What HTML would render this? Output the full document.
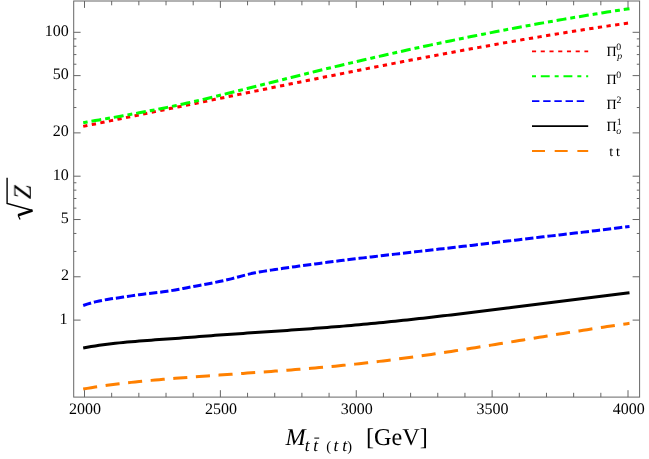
<!DOCTYPE html>
<html><head><meta charset="utf-8"><title>plot</title>
<style>html,body{margin:0;padding:0;background:#fff;overflow:hidden;}svg{display:block;}text{font-family:"Liberation Serif",serif;fill:#000;text-rendering:geometricPrecision;}.t{will-change:transform}</style></head>
<body>
<svg width="649" height="459" viewBox="0 0 649 459">
<rect width="649" height="459" fill="#fff"/>
<g fill="none" stroke-width="3" stroke-linejoin="round">
<path d="M83.2 126.35 L87.2 125.54 L91.2 124.73 L95.2 123.91 L99.2 123.10 L103.2 122.28 L107.2 121.47 L111.2 120.65 L115.2 119.83 L119.2 119.01 L123.2 118.19 L127.2 117.37 L131.2 116.55 L135.2 115.73 L139.2 114.91 L143.2 114.09 L147.2 113.27 L151.2 112.45 L155.2 111.63 L159.2 110.81 L163.2 109.99 L167.2 109.16 L171.2 108.34 L175.2 107.52 L179.2 106.70 L183.2 105.87 L187.2 105.05 L191.2 104.23 L195.2 103.41 L199.2 102.59 L203.2 101.76 L207.2 100.94 L211.2 100.12 L215.2 99.30 L219.2 98.48 L223.2 97.66 L227.2 96.84 L231.2 96.02 L235.2 95.20 L239.2 94.38 L243.2 93.56 L247.2 92.74 L251.2 91.92 L255.2 91.11 L259.2 90.29 L263.2 89.47 L267.2 88.66 L271.2 87.85 L275.2 87.03 L279.2 86.22 L283.2 85.41 L287.2 84.60 L291.2 83.79 L295.2 82.98 L299.2 82.17 L303.2 81.36 L307.2 80.55 L311.2 79.75 L315.2 78.94 L319.2 78.14 L323.2 77.34 L327.2 76.54 L331.2 75.74 L335.2 74.94 L339.2 74.14 L343.2 73.35 L347.2 72.55 L351.2 71.76 L355.2 70.97 L359.2 70.18 L363.2 69.39 L367.2 68.60 L371.2 67.81 L375.2 67.03 L379.2 66.24 L383.2 65.46 L387.2 64.68 L391.2 63.91 L395.2 63.13 L399.2 62.36 L403.2 61.58 L407.2 60.81 L411.2 60.05 L415.2 59.28 L419.2 58.52 L423.2 57.75 L427.2 56.99 L431.2 56.24 L435.2 55.48 L439.2 54.73 L443.2 53.98 L447.2 53.23 L451.2 52.49 L455.2 51.75 L459.2 51.01 L463.2 50.27 L467.2 49.54 L471.2 48.81 L475.2 48.08 L479.2 47.36 L483.2 46.63 L487.2 45.92 L491.2 45.20 L495.2 44.49 L499.2 43.78 L503.2 43.08 L507.2 42.37 L511.2 41.68 L515.2 40.98 L519.2 40.29 L523.2 39.60 L527.2 38.92 L531.2 38.24 L535.2 37.56 L539.2 36.89 L543.2 36.22 L547.2 35.56 L551.2 34.90 L555.2 34.24 L559.2 33.59 L563.2 32.94 L567.2 32.30 L571.2 31.66 L575.2 31.03 L579.2 30.40 L583.2 29.77 L587.2 29.15 L591.2 28.54 L595.2 27.93 L599.2 27.32 L603.2 26.72 L607.2 26.12 L611.2 25.53 L615.2 24.94 L619.2 24.36 L623.2 23.78 L627.2 23.21 L629.5 22.89" stroke="#ff0000" stroke-dasharray="4.3 4.435"/>
<path d="M83.2 122.67 L87.2 121.98 L91.2 121.29 L95.2 120.60 L99.2 119.91 L103.2 119.22 L107.2 118.53 L111.2 117.83 L115.2 117.13 L119.2 116.42 L123.2 115.71 L127.2 114.99 L131.2 114.27 L135.2 113.54 L139.2 112.80 L143.2 112.05 L147.2 111.30 L151.2 110.53 L155.2 109.75 L159.2 108.97 L163.2 108.17 L167.2 107.35 L171.2 106.53 L175.2 105.69 L179.2 104.83 L183.2 103.96 L187.2 103.07 L191.2 102.17 L195.2 101.25 L199.2 100.32 L203.2 99.38 L207.2 98.42 L211.2 97.46 L215.2 96.49 L219.2 95.51 L223.2 94.52 L227.2 93.53 L231.2 92.53 L235.2 91.54 L239.2 90.54 L243.2 89.53 L247.2 88.53 L251.2 87.52 L255.2 86.52 L259.2 85.51 L263.2 84.50 L267.2 83.49 L271.2 82.49 L275.2 81.48 L279.2 80.47 L283.2 79.47 L287.2 78.46 L291.2 77.46 L295.2 76.46 L299.2 75.46 L303.2 74.47 L307.2 73.48 L311.2 72.49 L315.2 71.50 L319.2 70.52 L323.2 69.55 L327.2 68.58 L331.2 67.61 L335.2 66.65 L339.2 65.69 L343.2 64.73 L347.2 63.78 L351.2 62.84 L355.2 61.90 L359.2 60.96 L363.2 60.03 L367.2 59.10 L371.2 58.17 L375.2 57.26 L379.2 56.34 L383.2 55.43 L387.2 54.53 L391.2 53.62 L395.2 52.73 L399.2 51.84 L403.2 50.95 L407.2 50.07 L411.2 49.19 L415.2 48.31 L419.2 47.44 L423.2 46.58 L427.2 45.72 L431.2 44.87 L435.2 44.01 L439.2 43.17 L443.2 42.33 L447.2 41.49 L451.2 40.66 L455.2 39.83 L459.2 39.01 L463.2 38.19 L467.2 37.38 L471.2 36.58 L475.2 35.77 L479.2 34.97 L483.2 34.18 L487.2 33.39 L491.2 32.61 L495.2 31.83 L499.2 31.06 L503.2 30.29 L507.2 29.53 L511.2 28.77 L515.2 28.01 L519.2 27.27 L523.2 26.52 L527.2 25.78 L531.2 25.05 L535.2 24.32 L539.2 23.60 L543.2 22.88 L547.2 22.17 L551.2 21.46 L555.2 20.76 L559.2 20.06 L563.2 19.37 L567.2 18.68 L571.2 18.00 L575.2 17.32 L579.2 16.65 L583.2 15.98 L587.2 15.32 L591.2 14.66 L595.2 14.01 L599.2 13.37 L603.2 12.73 L607.2 12.09 L611.2 11.46 L615.2 10.84 L619.2 10.22 L623.2 9.60 L627.2 9.00 L629.5 8.65" stroke="#00ff00" stroke-dasharray="4.9 3.9 9.9 3.97" stroke-dashoffset="0.4"/>
<path d="M83.2 305.53 L87.2 304.13 L91.2 302.92 L95.2 301.88 L99.2 300.97 L103.2 300.18 L107.2 299.48 L111.2 298.85 L115.2 298.25 L119.2 297.67 L123.2 297.08 L127.2 296.48 L131.2 295.87 L135.2 295.27 L139.2 294.70 L143.2 294.16 L147.2 293.68 L151.2 293.23 L155.2 292.78 L159.2 292.33 L163.2 291.83 L167.2 291.27 L171.2 290.63 L175.2 289.94 L179.2 289.20 L183.2 288.44 L187.2 287.69 L191.2 286.94 L195.2 286.20 L199.2 285.46 L203.2 284.71 L207.2 283.95 L211.2 283.18 L215.2 282.38 L219.2 281.56 L223.2 280.71 L227.2 279.81 L231.2 278.84 L235.2 277.79 L239.2 276.71 L243.2 275.61 L247.2 274.56 L251.2 273.59 L255.2 272.75 L259.2 272.03 L263.2 271.37 L267.2 270.75 L271.2 270.13 L275.2 269.53 L279.2 268.94 L283.2 268.35 L287.2 267.78 L291.2 267.21 L295.2 266.65 L299.2 266.09 L303.2 265.54 L307.2 265.00 L311.2 264.46 L315.2 263.93 L319.2 263.40 L323.2 262.88 L327.2 262.36 L331.2 261.85 L335.2 261.34 L339.2 260.83 L343.2 260.33 L347.2 259.83 L351.2 259.34 L355.2 258.85 L359.2 258.36 L363.2 257.87 L367.2 257.39 L371.2 256.92 L375.2 256.44 L379.2 255.97 L383.2 255.51 L387.2 255.04 L391.2 254.58 L395.2 254.12 L399.2 253.66 L403.2 253.20 L407.2 252.74 L411.2 252.29 L415.2 251.83 L419.2 251.38 L423.2 250.93 L427.2 250.47 L431.2 250.02 L435.2 249.56 L439.2 249.10 L443.2 248.65 L447.2 248.19 L451.2 247.73 L455.2 247.26 L459.2 246.80 L463.2 246.33 L467.2 245.86 L471.2 245.39 L475.2 244.92 L479.2 244.44 L483.2 243.97 L487.2 243.49 L491.2 243.02 L495.2 242.54 L499.2 242.06 L503.2 241.58 L507.2 241.10 L511.2 240.63 L515.2 240.15 L519.2 239.67 L523.2 239.19 L527.2 238.71 L531.2 238.24 L535.2 237.76 L539.2 237.29 L543.2 236.81 L547.2 236.34 L551.2 235.87 L555.2 235.40 L559.2 234.93 L563.2 234.47 L567.2 234.00 L571.2 233.53 L575.2 233.07 L579.2 232.60 L583.2 232.13 L587.2 231.65 L591.2 231.18 L595.2 230.70 L599.2 230.22 L603.2 229.73 L607.2 229.24 L611.2 228.74 L615.2 228.24 L619.2 227.73 L623.2 227.22 L627.2 226.70 L629.5 226.39" stroke="#0000ff" stroke-dasharray="8.3 2.886"/>
<path d="M83.2 348.09 L87.2 347.31 L91.2 346.59 L95.2 345.93 L99.2 345.32 L103.2 344.75 L107.2 344.23 L111.2 343.74 L115.2 343.29 L119.2 342.87 L123.2 342.48 L127.2 342.10 L131.2 341.75 L135.2 341.41 L139.2 341.08 L143.2 340.77 L147.2 340.46 L151.2 340.16 L155.2 339.87 L159.2 339.59 L163.2 339.30 L167.2 339.02 L171.2 338.73 L175.2 338.44 L179.2 338.15 L183.2 337.84 L187.2 337.54 L191.2 337.22 L195.2 336.91 L199.2 336.59 L203.2 336.28 L207.2 335.97 L211.2 335.66 L215.2 335.36 L219.2 335.07 L223.2 334.78 L227.2 334.50 L231.2 334.22 L235.2 333.94 L239.2 333.67 L243.2 333.40 L247.2 333.12 L251.2 332.85 L255.2 332.58 L259.2 332.31 L263.2 332.04 L267.2 331.77 L271.2 331.50 L275.2 331.23 L279.2 330.96 L283.2 330.68 L287.2 330.40 L291.2 330.12 L295.2 329.84 L299.2 329.55 L303.2 329.26 L307.2 328.97 L311.2 328.68 L315.2 328.37 L319.2 328.07 L323.2 327.76 L327.2 327.44 L331.2 327.12 L335.2 326.80 L339.2 326.46 L343.2 326.12 L347.2 325.78 L351.2 325.43 L355.2 325.07 L359.2 324.70 L363.2 324.33 L367.2 323.96 L371.2 323.57 L375.2 323.19 L379.2 322.79 L383.2 322.39 L387.2 321.99 L391.2 321.58 L395.2 321.17 L399.2 320.75 L403.2 320.32 L407.2 319.90 L411.2 319.46 L415.2 319.03 L419.2 318.58 L423.2 318.14 L427.2 317.69 L431.2 317.23 L435.2 316.78 L439.2 316.32 L443.2 315.85 L447.2 315.38 L451.2 314.91 L455.2 314.44 L459.2 313.96 L463.2 313.48 L467.2 313.00 L471.2 312.52 L475.2 312.03 L479.2 311.54 L483.2 311.05 L487.2 310.55 L491.2 310.06 L495.2 309.56 L499.2 309.06 L503.2 308.56 L507.2 308.06 L511.2 307.55 L515.2 307.05 L519.2 306.54 L523.2 306.03 L527.2 305.53 L531.2 305.02 L535.2 304.51 L539.2 304.00 L543.2 303.49 L547.2 302.98 L551.2 302.47 L555.2 301.96 L559.2 301.46 L563.2 300.95 L567.2 300.44 L571.2 299.93 L575.2 299.43 L579.2 298.92 L583.2 298.41 L587.2 297.91 L591.2 297.41 L595.2 296.91 L599.2 296.41 L603.2 295.91 L607.2 295.42 L611.2 294.92 L615.2 294.43 L619.2 293.94 L623.2 293.45 L627.2 292.97 L629.5 292.69" stroke="#000000"/>
<path d="M83.2 389.05 L87.2 388.37 L91.2 387.72 L95.2 387.08 L99.2 386.48 L103.2 385.89 L107.2 385.33 L111.2 384.79 L115.2 384.27 L119.2 383.77 L123.2 383.29 L127.2 382.83 L131.2 382.38 L135.2 381.95 L139.2 381.53 L143.2 381.13 L147.2 380.74 L151.2 380.37 L155.2 380.00 L159.2 379.65 L163.2 379.31 L167.2 378.97 L171.2 378.64 L175.2 378.32 L179.2 378.01 L183.2 377.70 L187.2 377.40 L191.2 377.10 L195.2 376.80 L199.2 376.51 L203.2 376.22 L207.2 375.93 L211.2 375.64 L215.2 375.36 L219.2 375.08 L223.2 374.80 L227.2 374.52 L231.2 374.24 L235.2 373.96 L239.2 373.68 L243.2 373.40 L247.2 373.12 L251.2 372.84 L255.2 372.56 L259.2 372.27 L263.2 371.99 L267.2 371.70 L271.2 371.41 L275.2 371.12 L279.2 370.82 L283.2 370.52 L287.2 370.22 L291.2 369.91 L295.2 369.59 L299.2 369.28 L303.2 368.95 L307.2 368.62 L311.2 368.29 L315.2 367.95 L319.2 367.60 L323.2 367.25 L327.2 366.88 L331.2 366.51 L335.2 366.14 L339.2 365.75 L343.2 365.36 L347.2 364.96 L351.2 364.54 L355.2 364.12 L359.2 363.69 L363.2 363.25 L367.2 362.80 L371.2 362.34 L375.2 361.87 L379.2 361.38 L383.2 360.90 L387.2 360.40 L391.2 359.89 L395.2 359.37 L399.2 358.85 L403.2 358.32 L407.2 357.78 L411.2 357.23 L415.2 356.68 L419.2 356.12 L423.2 355.55 L427.2 354.98 L431.2 354.40 L435.2 353.81 L439.2 353.22 L443.2 352.63 L447.2 352.02 L451.2 351.42 L455.2 350.81 L459.2 350.19 L463.2 349.57 L467.2 348.95 L471.2 348.32 L475.2 347.69 L479.2 347.05 L483.2 346.42 L487.2 345.78 L491.2 345.14 L495.2 344.49 L499.2 343.84 L503.2 343.20 L507.2 342.55 L511.2 341.90 L515.2 341.25 L519.2 340.59 L523.2 339.94 L527.2 339.29 L531.2 338.64 L535.2 337.99 L539.2 337.33 L543.2 336.68 L547.2 336.03 L551.2 335.39 L555.2 334.74 L559.2 334.09 L563.2 333.45 L567.2 332.81 L571.2 332.17 L575.2 331.54 L579.2 330.91 L583.2 330.28 L587.2 329.65 L591.2 329.03 L595.2 328.41 L599.2 327.80 L603.2 327.19 L607.2 326.59 L611.2 325.99 L615.2 325.40 L619.2 324.81 L623.2 324.23 L627.2 323.65 L629.5 323.32" stroke="#ff8000" stroke-dasharray="14.1 8.58"/>
</g>
<g fill="none" stroke="#666" stroke-width="1">
<rect x="73.7" y="1.0" width="565.9" height="396.1"/>
<path d="M84.50 397.1V390.2M84.50 1.0V7.9M111.67 397.1V392.8M111.67 1.0V5.3M138.85 397.1V392.8M138.85 1.0V5.3M166.03 397.1V392.8M166.03 1.0V5.3M193.20 397.1V392.8M193.20 1.0V5.3M220.38 397.1V390.2M220.38 1.0V7.9M247.55 397.1V392.8M247.55 1.0V5.3M274.73 397.1V392.8M274.73 1.0V5.3M301.90 397.1V392.8M301.90 1.0V5.3M329.07 397.1V392.8M329.07 1.0V5.3M356.25 397.1V390.2M356.25 1.0V7.9M383.43 397.1V392.8M383.43 1.0V5.3M410.60 397.1V392.8M410.60 1.0V5.3M437.77 397.1V392.8M437.77 1.0V5.3M464.95 397.1V392.8M464.95 1.0V5.3M492.12 397.1V390.2M492.12 1.0V7.9M519.30 397.1V392.8M519.30 1.0V5.3M546.48 397.1V392.8M546.48 1.0V5.3M573.65 397.1V392.8M573.65 1.0V5.3M600.83 397.1V392.8M600.83 1.0V5.3M628.00 397.1V390.2M628.00 1.0V7.9M73.7 320.10H80.6M639.5 320.10H632.6M73.7 276.78H80.6M639.5 276.78H632.6M73.7 251.44H76.4M639.5 251.44H636.8M73.7 233.46H76.4M639.5 233.46H636.8M73.7 219.52H80.6M639.5 219.52H632.6M73.7 208.12H76.4M639.5 208.12H636.8M73.7 198.49H76.4M639.5 198.49H636.8M73.7 190.15H76.4M639.5 190.15H636.8M73.7 182.78H76.4M639.5 182.78H636.8M73.7 176.20H80.6M639.5 176.20H632.6M73.7 132.88H80.6M639.5 132.88H632.6M73.7 107.54H76.4M639.5 107.54H636.8M73.7 89.56H76.4M639.5 89.56H636.8M73.7 75.62H80.6M639.5 75.62H632.6M73.7 64.22H76.4M639.5 64.22H636.8M73.7 54.59H76.4M639.5 54.59H636.8M73.7 46.25H76.4M639.5 46.25H636.8M73.7 38.88H76.4M639.5 38.88H636.8M73.7 32.30H80.6M639.5 32.30H632.6"/>
</g>
<g fill="none" stroke-width="1.85">
<path d="M532 51.3H588.2" stroke="#ff0000" stroke-dasharray="4.1 4.635"/>
<path d="M532 76.2H588.2" stroke="#00ff00" stroke-dasharray="4 4.8 8.9 4.97"/>
<path d="M532 101.15H587" stroke="#0000ff" stroke-dasharray="7.4 3.786"/>
<path d="M532 126.05H588.2" stroke="#000"/>
<path d="M532 151H588.2" stroke="#ff8000" stroke-dasharray="13 9.68"/>
</g>
<g class="t"><text x="69.00" y="413.50" font-size="16">2000</text><text x="204.88" y="413.50" font-size="16">2500</text><text x="340.72" y="413.50" font-size="16">3000</text><text x="476.60" y="413.50" font-size="16">3500</text><text x="612.70" y="413.50" font-size="16">4000</text><text x="59.56" y="323.60" font-size="16">1</text><text x="60.98" y="280.28" font-size="16">2</text><text x="60.72" y="223.02" font-size="16">5</text><text x="52.71" y="179.70" font-size="16">10</text><text x="52.71" y="136.38" font-size="16">20</text><text x="52.71" y="79.12" font-size="16">50</text><text x="44.71" y="35.80" font-size="16">100</text><text x="606.60" y="55.70" font-size="14">Π</text><text x="616.23" y="49.90" font-size="9.8">0</text><text x="617.17" y="58.80" font-size="9.8" font-style="italic">p</text><text x="606.60" y="83.70" font-size="14">Π</text><text x="616.33" y="78.30" font-size="9.8">0</text><text x="606.60" y="108.80" font-size="14">Π</text><text x="616.47" y="103.00" font-size="9.8">2</text><text x="606.60" y="131.10" font-size="14">Π</text><text x="616.64" y="125.00" font-size="9.8">1</text><text x="616.31" y="133.60" font-size="9.8" font-style="italic">o</text><text x="609.16" y="155.75" font-size="14">t</text><text x="616.09" y="155.75" font-size="14">t</text><text x="285.48" y="445.00" font-size="24.2" font-style="italic">M</text><text x="304.84" y="451.30" font-size="17.2" font-style="italic">t</text><text x="313.14" y="451.30" font-size="17.2" font-style="italic">t</text><text x="333.54" y="451.30" font-size="17.2" font-style="italic">t</text><text x="342.14" y="451.30" font-size="17.2" font-style="italic">t</text><text x="326.27" y="451.20" font-size="14.3">(</text><text x="347.34" y="451.20" font-size="14.3">)</text><text x="366.00" y="445.20" font-size="24.2">[GeV]</text></g>
<path d="M314.3 438.1H319.2" stroke="#000" stroke-width="1" fill="none"/>
<g class="t"><text transform="translate(30.8 198.9) rotate(-90)" x="-0.31" y="0" font-size="25.3" font-style="italic">Z</text></g>
<path d="M7.1 177.7V203.5L32.5 210.5" fill="none" stroke="#000" stroke-width="1.4" stroke-linejoin="miter"/>
<path d="M32.5 210.5L18.1 215.2" fill="none" stroke="#000" stroke-width="2.6"/>
<path d="M18.1 215.2L20.1 219.5" fill="none" stroke="#000" stroke-width="1.2"/>
</svg>
</body></html>
